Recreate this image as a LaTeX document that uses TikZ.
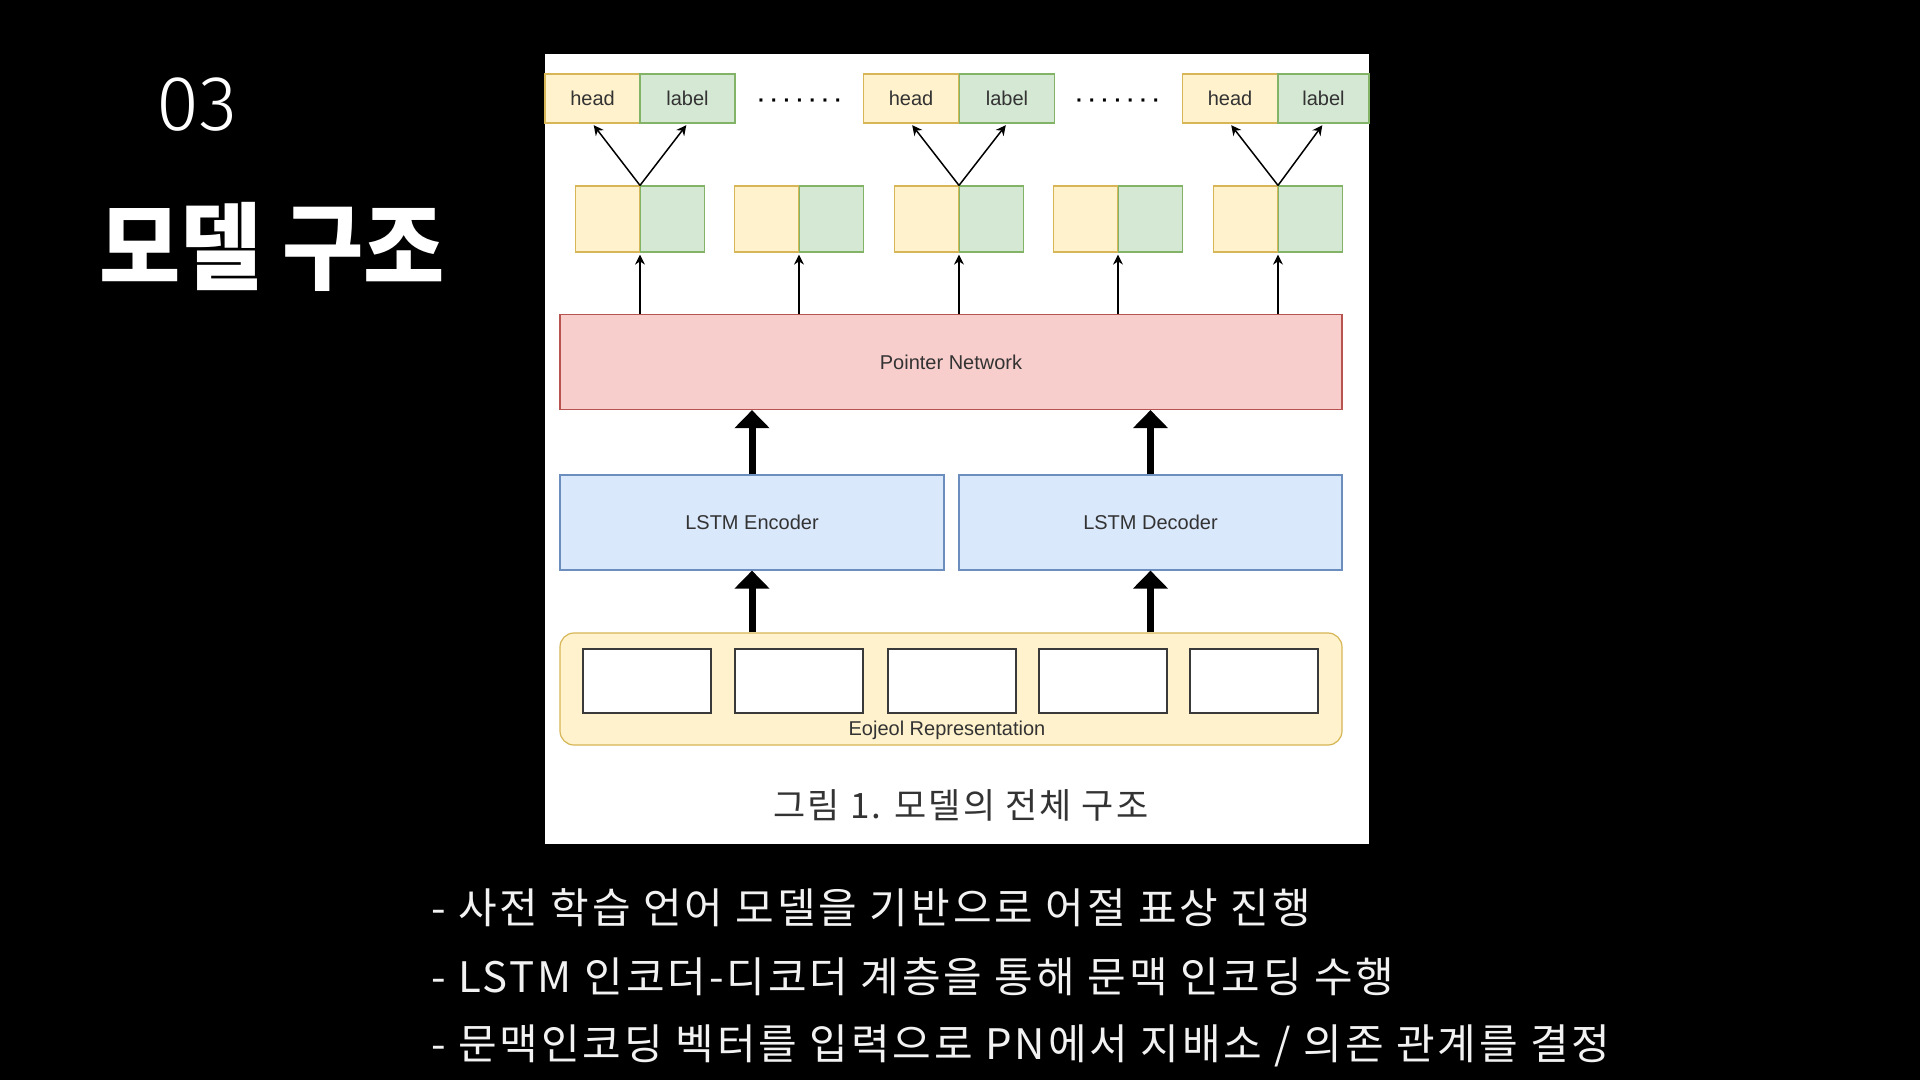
\documentclass[tikz,border=0pt]{standalone}
\usepackage{fontspec}
\setmainfont{Liberation Sans}
\newfontfamily\kofont{Noto Sans CJK KR}
\newfontfamily\bulletfont{Noto Sans CJK KR}[LetterSpace=7]
\newfontfamily\capfont{Noto Sans CJK KR}[LetterSpace=6]
\newfontfamily\numfont{Fira Sans Light}
\usetikzlibrary{arrows.meta,positioning}

\definecolor{yelfill}{HTML}{FFF2CC}
\definecolor{yelline}{HTML}{D6B656}
\definecolor{grnfill}{HTML}{D5E8D4}
\definecolor{grnline}{HTML}{82B366}
\definecolor{pnkfill}{HTML}{F8CECC}
\definecolor{pnkline}{HTML}{B85450}
\definecolor{blufill}{HTML}{DAE8FC}
\definecolor{bluline}{HTML}{6C8EBF}
\definecolor{textgrey}{HTML}{333333}
\definecolor{tokline}{HTML}{3A3A3A}
\definecolor{bullettext}{HTML}{F2F2F2}

\newcommand{\diagfont}{\fontsize{20}{24}\selectfont}

\begin{document}
\begin{tikzpicture}[x=1pt,y=-1pt,
    cell/.style={draw, line width=1.2pt, inner sep=0pt, text=textgrey, font=\diagfont},
    headcell/.style={cell, fill=yelfill, draw=yelline, minimum width=95pt, minimum height=49pt},
    labelcell/.style={cell, fill=grnfill, draw=grnline, minimum width=95pt, minimum height=49pt},
    yelcell/.style={cell, fill=yelfill, draw=yelline, minimum width=64pt, minimum height=66pt},
    grncell/.style={cell, fill=grnfill, draw=grnline, minimum width=64pt, minimum height=66pt},
    layer/.style={cell, minimum height=95pt},
    tokbox/.style={draw=tokline, line width=2pt, fill=white, minimum width=128pt, minimum height=64pt},
    thin arrow/.style={-{Stealth[length=10pt,width=10pt]}, line width=1.5pt, shorten >=2pt},
    thick arrow/.style={-{Triangle[length=18pt,width=34pt]}, line width=7pt},
    bullet/.style={anchor=west, text=bullettext, inner sep=0pt, font=\bulletfont\fontsize{42}{48}\selectfont}
  ]

  % Slide background and figure panel
  \fill[black] (0,0) rectangle (1920,1080);
  \useasboundingbox (0,0) rectangle (1920,1080);
  \fill[white] (545,54) rectangle (1369,844);

  % Slide title
  \node[text=white, font=\numfont\fontsize{78}{90}\selectfont] (num) at (197,105) {03};
  \node[text=white, font=\kofont\bfseries\fontsize{95}{110}\selectfont] (title) at (272,247)
    {\scalebox{0.93}[1]{모델 구조}};

  % Output pairs
  \node[headcell] (head1) at (592.5,98.5) {head};
  \node[labelcell] (label1) at (687.5,98.5) {label};
  \node[headcell] (head2) at (911,98.5) {head};
  \node[labelcell] (label2) at (1007,98.5) {label};
  \node[headcell] (head3) at (1230,98.5) {head};
  \node[labelcell, minimum width=91pt] (label3) at (1323.5,98.5) {label};
  \node[font=\bfseries\fontsize{21}{21}\selectfont] (dots1) at (800,103) {· · · · · · ·};
  \node[font=\bfseries\fontsize{21}{21}\selectfont] (dots2) at (1118,103) {· · · · · · ·};

  % Pointer outputs
  \foreach \i/\sx in {1/640,2/799,3/959,4/1118,5/1278}{
    \node[yelcell, anchor=east] (yel\i) at (\sx,219) {};
    \node[grncell, anchor=west] (grn\i) at (\sx,219) {};
  }

  % Layers
  \node[layer, fill=pnkfill, draw=pnkline, minimum width=782pt] (pn) at (951,362) {Pointer Network};
  \node[layer, fill=blufill, draw=bluline, minimum width=384pt] (enc) at (752,522.5) {LSTM Encoder};
  \node[layer, fill=blufill, draw=bluline, minimum width=383pt] (dec) at (1150.5,522.5) {LSTM Decoder};

  % Eojeol representation
  \node[cell, fill=yelfill, draw=yelline, rounded corners=14pt, minimum width=782pt, minimum height=112pt] (eoj) at (951,689) {};
  \node[tokbox] (tok1) at (647,681) {};
  \node[tokbox] (tok2) at (799,681) {};
  \node[tokbox] (tok3) at (952,681) {};
  \node[tokbox] (tok4) at (1103,681) {};
  \node[tokbox] (tok5) at (1254,681) {};
  \node[text=textgrey, font=\diagfont] (eojtext) at (947,730) {Eojeol Representation};

  % Caption
  \node[text=textgrey, font=\capfont\fontsize{35}{40}\selectfont] (cap) at (961,805) {그림 1. 모델의 전체 구조};

  % Arrows
  \foreach \i in {1,...,5}
    \draw[thin arrow] (pn.north -| yel\i.south east) -- (yel\i.south east);
  \draw[thin arrow] (yel1.north east) -- (head1.south);
  \draw[thin arrow] (yel1.north east) -- (label1.south);
  \draw[thin arrow] (yel3.north east) -- (head2.south);
  \draw[thin arrow] (yel3.north east) -- (label2.south);
  \draw[thin arrow] (yel5.north east) -- (head3.south);
  \draw[thin arrow] (yel5.north east) -- (label3.south);
  \draw[thick arrow] (enc.north) -- (enc.north |- pn.south);
  \draw[thick arrow] (dec.north) -- (dec.north |- pn.south);
  \draw[thick arrow] (eoj.north -| enc.south) -- (enc.south);
  \draw[thick arrow] (eoj.north -| dec.south) -- (dec.south);

  % Bullet points
  \node[bullet] (b1) at (431,908) {- 사전 학습 언어 모델을 기반으로 어절 표상 진행};
  \node[bullet] (b2) at (431,977) {- LSTM 인코더-디코더 계층을 통해 문맥 인코딩 수행};
  \node[bullet] (b3) at (431,1046) {- 문맥인코딩 벡터를 입력으로 PN에서 지배소 / 의존 관계를 결정};
\end{tikzpicture}
\end{document}
